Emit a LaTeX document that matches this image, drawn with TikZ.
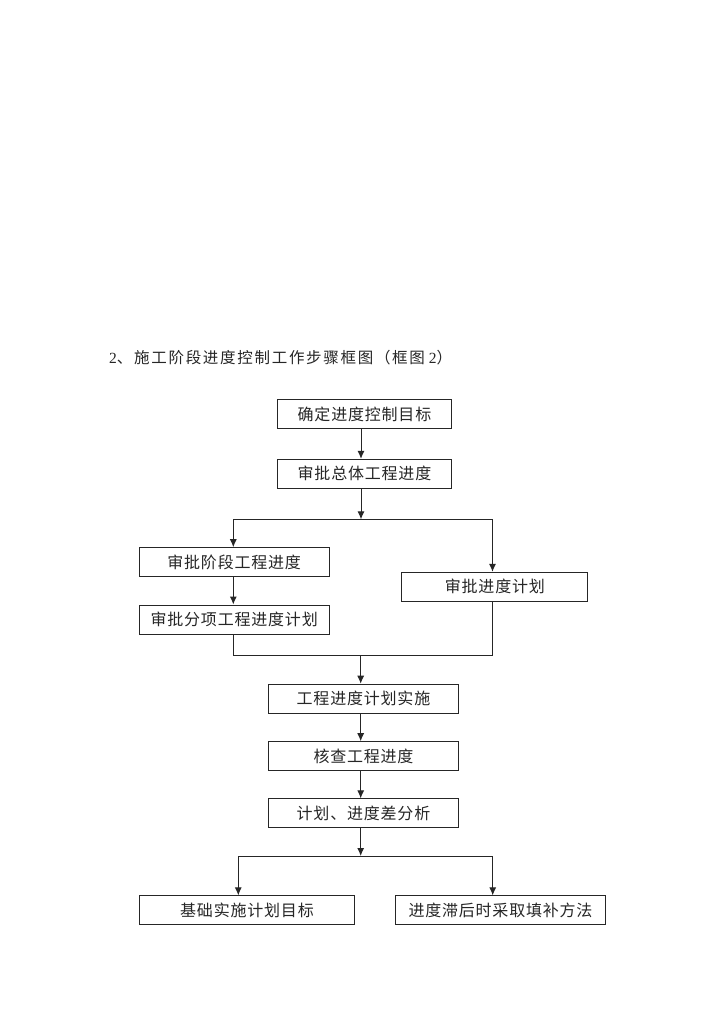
\documentclass[tikz,border=0pt]{standalone}
\usepackage{fontspec}
\setmainfont{Liberation Serif}
\newfontfamily\cjk[LetterSpace=5]{Noto Sans CJK SC}
\newfontfamily\cjktitle[LetterSpace=11]{Noto Sans CJK SC}
\usetikzlibrary{arrows.meta}
\tikzset{
  stepbox/.style={draw=black!85, line width=1pt, inner sep=0pt, minimum height=29pt,
    font=\fontsize{16}{19}\selectfont\cjk, text=black!85},
  link/.style={draw=black!85, line width=1pt},
  arr/.style={link, -{Latex[length=8pt,width=7pt]}}
}
\begin{document}
\begin{tikzpicture}[x=1pt,y=-1pt]
\useasboundingbox[fill=white] (0,0) rectangle (720,1018);
\node[anchor=west, text=black!85, font=\fontsize{15.5}{18}\selectfont, inner sep=0pt] (title) at (109,358)
  {2{\cjktitle 、施工阶段进度控制工作步骤框图（框图} 2{\cjktitle ）}};
% boxes
\node[stepbox, minimum width=174pt] (b1) at (364.5,414) {确定进度控制目标};
\node[stepbox, minimum width=174pt] (b2) at (364.5,473.8) {审批总体工程进度};
\node[stepbox, minimum width=190pt] (l1) at (234.2,562.2) {审批阶段工程进度};
\node[stepbox, minimum width=190pt] (l2) at (234.2,619.5) {审批分项工程进度计划};
\node[stepbox, minimum width=186pt] (r1) at (494.9,586.8) {审批进度计划};
\node[stepbox, minimum width=190pt] (c1) at (363.5,698.7) {工程进度计划实施};
\node[stepbox, minimum width=190pt] (c2) at (363.5,756.2) {核查工程进度};
\node[stepbox, minimum width=190pt] (c3) at (363.5,813.4) {计划、进度差分析};
\node[stepbox, minimum width=215pt] (d1) at (247,910.4) {基础实施计划目标};
\node[stepbox, minimum width=210pt] (d2) at (500.5,910.4) {进度滞后时采取填补方法};
% junction coordinates
\coordinate (s1) at (361,519.3);
\coordinate (s1l) at (233.3,519.3);
\coordinate (s1r) at (492.5,519.3);
\coordinate (m1) at (360.7,655.7);
\coordinate (m1l) at (233.3,655.7);
\coordinate (m1r) at (492.5,655.7);
\coordinate (s2) at (360.7,856);
\coordinate (s2l) at (238.3,856);
\coordinate (s2r) at (492.7,856);
% connectors
\draw[arr] (b1.south -| s1) -- (b2.north -| s1);
\draw[arr] (b2.south -| s1) -- (s1);
\draw[link] (s1l) -- (s1r);
\draw[arr] (s1l) -- (l1.north -| s1l);
\draw[arr] (s1r) -- (r1.north -| s1r);
\draw[arr] (l1.south -| s1l) -- (l2.north -| s1l);
\draw[link] (l2.south -| m1l) -- (m1l) -- (m1r) -- (r1.south -| m1r);
\draw[arr] (m1) -- (c1.north -| m1);
\draw[arr] (c1.south -| m1) -- (c2.north -| m1);
\draw[arr] (c2.south -| m1) -- (c3.north -| m1);
\draw[arr] (c3.south -| s2) -- (s2);
\draw[link] (s2l) -- (s2r);
\draw[arr] (s2l) -- (d1.north -| s2l);
\draw[arr] (s2r) -- (d2.north -| s2r);
\end{tikzpicture}
\end{document}
